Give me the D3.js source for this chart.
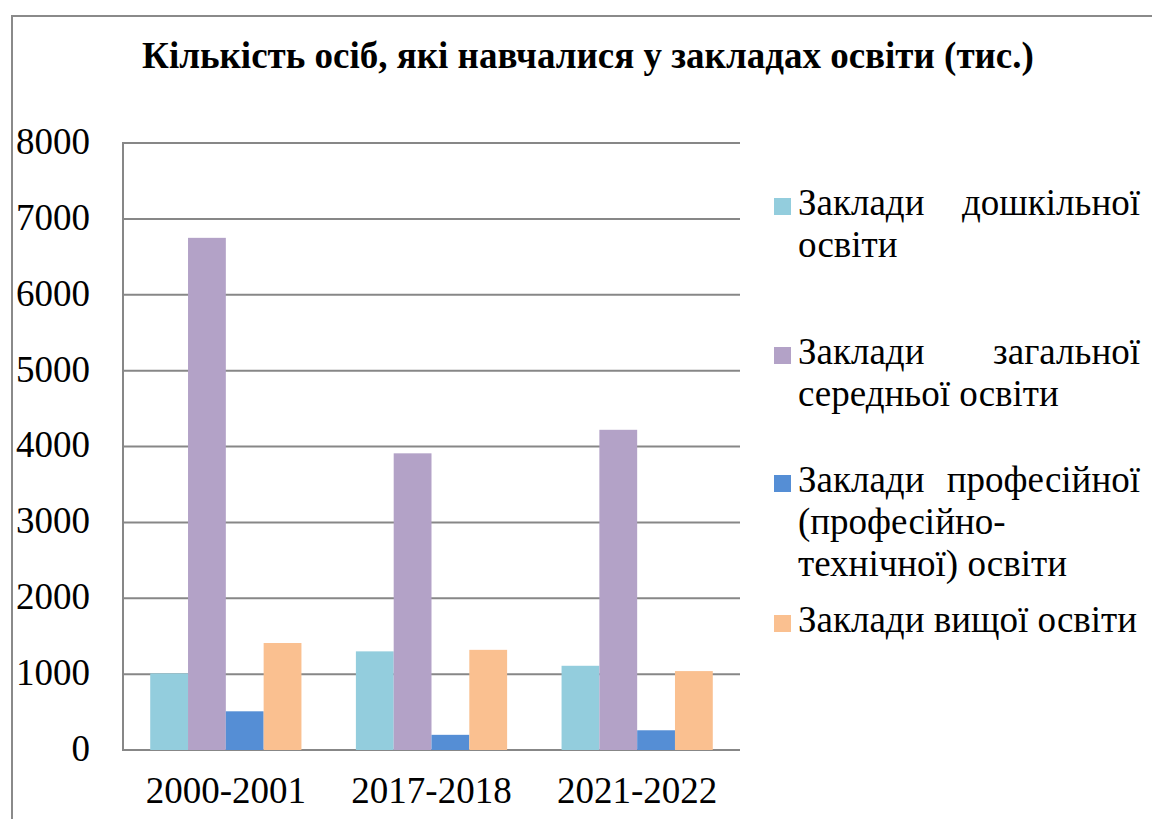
<!DOCTYPE html>
<html>
<head>
<meta charset="utf-8">
<script src="https://cdn.jsdelivr.net/npm/d3@7"></script>
<style>
  html, body { margin: 0; padding: 0; background: #fff; }
  svg { display: block; }
</style>
</head>
<body>
<svg id="chart" width="1152" height="819"></svg>
<script>
// Academic years (categories)
const years = ["2000-2001", "2017-2018", "2021-2022"];

// Series names: each entry is the list of legend lines
const seriesNames = [
  ["Заклади дошкільної", "освіти"],
  ["Заклади загальної", "середньої освіти"],
  ["Заклади професійної", "(професійно-", "технічної) освіти"],
  ["Заклади вищої освіти"]
];

// Students, thousands
const preschool   = [1010, 1300, 1110];
const generalSec  = [6750, 3910, 4220];
const vocational  = [510, 200, 260];
const higher      = [1410, 1320, 1040];

const seriesColors = ["#93cddd", "#b3a2c7", "#558ed5", "#fac090"];
const yTicks = [0, 1000, 2000, 3000, 4000, 5000, 6000, 7000, 8000];

const seriesValues = [preschool, generalSec, vocational, higher];

const FONT = "Liberation Serif";
const svg = d3.select("#chart").attr("font-family", FONT);
const W = 1152, H = 819;
const plot = { left: 123, right: 740, top: 143, bottom: 750 };
const gridColor = "#878787";

// outer frame (runs past the right and bottom edges)
svg.append("path")
  .attr("d", `M12,${H + 5} L12,16 L${W + 5},16`)
  .attr("fill", "none")
  .attr("stroke", "#8a8a8a")
  .attr("stroke-width", 2);

// title
svg.append("text")
  .attr("x", 588)
  .attr("y", 68)
  .attr("text-anchor", "middle")
  .attr("font-family", FONT)
  .attr("font-weight", "bold")
  .attr("font-size", 37)
  .attr("fill", "#000")
  .text("Кількість осіб, які навчалися у закладах освіти (тис.)");

const y = d3.scaleLinear().domain([0, 8000]).range([plot.bottom, plot.top]);
const x0 = d3.scaleBand().domain(years).range([plot.left, plot.right]);
const x1 = d3.scaleBand().domain(d3.range(seriesValues.length))
  .range([0, x0.bandwidth()]).paddingInner(0).paddingOuter(0.72);

// horizontal gridlines
svg.append("g").selectAll("line").data(yTicks).join("line")
  .attr("x1", plot.left).attr("x2", plot.right)
  .attr("y1", d => y(d)).attr("y2", d => y(d))
  .attr("stroke", gridColor).attr("stroke-width", 2);

// y axis labels
const yAxis = d3.axisLeft(y).tickValues(yTicks).tickSize(0).tickPadding(0).tickFormat(d3.format("d"));
const gy = svg.append("g").attr("transform", "translate(90,0)").call(yAxis)
  .attr("font-family", FONT).attr("font-size", 37);
gy.select(".domain").remove();
gy.selectAll("text")
  .attr("dy", "0.28em")
  .attr("font-family", FONT)
  .attr("font-size", 37)
  .attr("fill", "#000");

// bars
const groups = svg.append("g").selectAll("g").data(years).join("g")
  .attr("transform", d => `translate(${x0(d)},0)`);
groups.selectAll("rect")
  .data((d, i) => seriesValues.map((vals, s) => ({ s, v: vals[i] })))
  .join("rect")
  .attr("x", d => x1(d.s))
  .attr("width", x1.bandwidth())
  .attr("y", d => y(d.v))
  .attr("height", d => y(0) - y(d.v))
  .attr("fill", d => seriesColors[d.s]);

// left axis line
svg.append("line")
  .attr("x1", plot.left).attr("x2", plot.left)
  .attr("y1", plot.top - 1).attr("y2", plot.bottom + 1)
  .attr("stroke", gridColor).attr("stroke-width", 2);

// x axis labels
const xAxis = d3.axisBottom(x0).tickSize(0).tickPadding(0);
const gx = svg.append("g").attr("transform", `translate(0,${plot.bottom})`).call(xAxis)
  .attr("font-family", FONT).attr("font-size", 37);
gx.select(".domain").remove();
gx.selectAll("text")
  .attr("y", 53)
  .attr("dy", 0)
  .attr("font-family", FONT)
  .attr("font-size", 37)
  .attr("fill", "#000");

// legend
const legX = 774, textL = 798, textR = 1140;
const lineH = 42;
const legendBase = [215, 364, 492, 632];
const legFont = 37;
const legend = svg.append("g");
const legText = (xx, yy, str, anchor) => legend.append("text")
  .attr("x", xx).attr("y", yy)
  .attr("text-anchor", anchor)
  .attr("font-family", FONT)
  .attr("font-size", legFont)
  .attr("fill", "#000")
  .text(str);
seriesNames.forEach((lines, s) => {
  const base = legendBase[s];
  legend.append("rect")
    .attr("x", legX).attr("y", base - 17)
    .attr("width", 17).attr("height", 17)
    .attr("fill", seriesColors[s]);
  lines.forEach((ln, j) => {
    const yy = base + j * lineH;
    const words = ln.split(" ");
    const justify = j < lines.length - 1 && words.length > 1;
    if (justify) {
      // justified line: first word left, rest flush right
      legText(textL, yy, words[0], "start");
      legText(textR, yy, words.slice(1).join(" "), "end");
    } else {
      legText(textL, yy, ln, "start");
    }
  });
});
</script>
</body>
</html>
